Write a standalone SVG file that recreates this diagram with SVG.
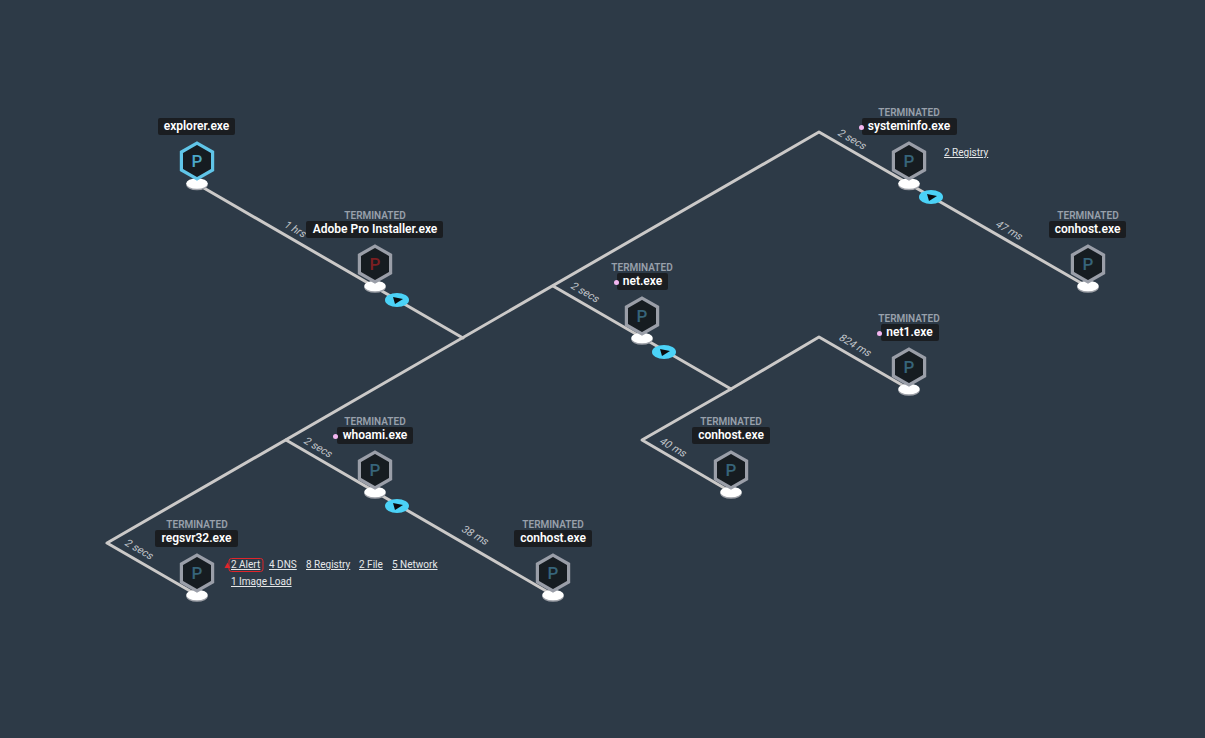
<svg xmlns="http://www.w3.org/2000/svg" width="1205" height="738" viewBox="0 0 1205 738">
<defs>
<style>
text{font-family:Roboto,"Liberation Sans",sans-serif}
.e{fill:none;stroke:#cbc9c8;stroke-width:3;stroke-linecap:round;stroke-linejoin:round}
.hex{fill:#161c21;stroke:#9a9ea8;stroke-width:3.2}
.hexa{fill:#161c21;stroke:#60c5e8;stroke-width:3.2}
.p{font-size:17px;font-weight:500;text-anchor:middle;fill:#36647a}
.lab{fill:#1a1d21}
.name{font-size:12px;font-weight:600;fill:#fff;text-anchor:middle}
.term{font-size:10px;font-weight:600;fill:#98a0ab;text-anchor:middle}
.t{font-size:10.500px;fill:#c2c6cb;text-anchor:middle}
.l{font-size:10px;fill:#e6e8ea;text-decoration:underline}
.dot{fill:#f3b6f0}
.s{fill:#9ea1a8}
.w{fill:#fff}
.c{fill:#4bd2f7}
.k{fill:#0b0c0e}
</style>
<path id="h" d="M0-17.800 15.600-9V9L0 17.800-15.600 9V-9Z"/>
<g id="b"><ellipse class="s" cy="1.500" rx="10.800" ry="5.200"/><ellipse class="w" rx="10.800" ry="5.200"/></g>
<g id="r"><ellipse class="c" rx="12" ry="7"/><path class="k" d="M-4-3 6-1-2 4Z"/></g>
</defs>
<rect width="1205" height="738" fill="#2d3a47"/>
<g id="connectors">
<path class="e" d="M197 184 463 338"/>
<path class="e" d="M197 595 107 543 819 132 1088 287"/>
<path class="e" d="M286 440 553 595"/>
<path class="e" d="M553 286 731 389 642 440 731 492"/>
<path class="e" d="M731 389 819 337 909 389"/>
<text class="t" transform="matrix(.866 .5 -.7 .75 293 232)">1 hrs</text>
<text class="t" transform="matrix(.866 .5 -.7 .75 137 552)">2 secs</text>
<text class="t" transform="matrix(.866 .5 -.7 .75 316 450)">2 secs</text>
<text class="t" transform="matrix(.866 .5 -.7 .75 583 295)">2 secs</text>
<text class="t" transform="matrix(.866 .5 -.7 .75 850 142)">2 secs</text>
<text class="t" transform="matrix(.866 .5 -.7 .75 473 538)">38 ms</text>
<text class="t" transform="matrix(.866 .5 -.7 .75 671 450)">40 ms</text>
<text class="t" transform="matrix(.866 .5 -.7 .75 853 348)">824 ms</text>
<text class="t" transform="matrix(.866 .5 -.7 .75 1007 233)">47 ms</text>
<use href="#r" x="397" y="300"/>
<use href="#r" x="664" y="352"/>
<use href="#r" x="931" y="197"/>
<use href="#r" x="397" y="506"/>
</g>
<g id="explorer">
<use href="#b" x="197" y="183.500"/><use href="#h" class="hexa" x="197" y="161"/>
<text class="p" x="197" y="167" style="fill:#4ba8c8">P</text>
<rect class="lab" x="158" y="118" width="77" height="17" rx="2"/><text class="name" x="196.500" y="130">explorer.exe</text>
</g>
<g id="adobe">
<use href="#b" x="375" y="286"/><use href="#h" class="hex" x="375" y="264"/>
<text class="p" x="375" y="270" style="fill:#7c1f22">P</text>
<text class="term" x="375" y="219">TERMINATED</text>
<rect class="lab" x="306" y="221" width="137" height="17" rx="2"/><text class="name" x="375" y="233">Adobe Pro Installer.exe</text>
</g>
<g id="systeminfo">
<use href="#b" x="909" y="183.500"/><use href="#h" class="hex" x="909" y="161"/>
<text class="p" x="909" y="167">P</text>
<text class="term" x="909" y="116">TERMINATED</text>
<rect class="lab" x="862" y="118" width="95" height="17" rx="2"/><circle class="dot" cx="861.500" cy="127.500" r="2.500"/><text class="name" x="909" y="130">systeminfo.exe</text>
<text class="l" x="944" y="156">2 Registry</text>
</g>
<g id="conhost-right">
<use href="#b" x="1088" y="286"/><use href="#h" class="hex" x="1088" y="264"/>
<text class="p" x="1088" y="270">P</text>
<text class="term" x="1088" y="219">TERMINATED</text>
<rect class="lab" x="1049" y="221" width="77" height="17" rx="2"/><text class="name" x="1087.500" y="233">conhost.exe</text>
</g>
<g id="net">
<use href="#b" x="642" y="338"/><use href="#h" class="hex" x="642" y="316"/>
<text class="p" x="642" y="322">P</text>
<text class="term" x="642" y="271">TERMINATED</text>
<rect class="lab" x="617" y="273" width="51" height="17" rx="2"/><circle class="dot" cx="616.500" cy="282.500" r="2.500"/><text class="name" x="642.500" y="285">net.exe</text>
</g>
<g id="net1">
<use href="#b" x="909" y="389"/><use href="#h" class="hex" x="909" y="367"/>
<text class="p" x="909" y="373">P</text>
<text class="term" x="909" y="322">TERMINATED</text>
<rect class="lab" x="881" y="324" width="58" height="17" rx="2"/><circle class="dot" cx="879.500" cy="333.500" r="2.500"/><text class="name" x="909.500" y="336">net1.exe</text>
</g>
<g id="conhost-mid">
<use href="#b" x="731" y="492"/><use href="#h" class="hex" x="731" y="470"/>
<text class="p" x="731" y="476">P</text>
<text class="term" x="731" y="425">TERMINATED</text>
<rect class="lab" x="692" y="427" width="78" height="17" rx="2"/><text class="name" x="731" y="439">conhost.exe</text>
</g>
<g id="whoami">
<use href="#b" x="375" y="492"/><use href="#h" class="hex" x="375" y="470"/>
<text class="p" x="375" y="476">P</text>
<text class="term" x="375" y="425">TERMINATED</text>
<rect class="lab" x="337" y="427" width="76" height="17" rx="2"/><circle class="dot" cx="335.500" cy="436.500" r="2.500"/><text class="name" x="375" y="439">whoami.exe</text>
</g>
<g id="regsvr32">
<use href="#b" x="197" y="595"/><use href="#h" class="hex" x="197" y="573"/>
<text class="p" x="197" y="579">P</text>
<text class="term" x="197" y="528">TERMINATED</text>
<rect class="lab" x="155" y="530" width="83" height="17" rx="2"/><text class="name" x="196.500" y="542">regsvr32.exe</text>
<rect x="229" y="558.500" width="34" height="13" rx="2.500" fill="none" stroke="#e0252b" stroke-width="1"/>
<path d="M224.500 568 227.500 562.500 230.500 568Z" fill="#e0252b"/>
<text class="l" x="231" y="568">2 Alert</text>
<text class="l" x="269" y="568">4 DNS</text>
<text class="l" x="306" y="568">8 Registry</text>
<text class="l" x="359" y="568">2 File</text>
<text class="l" x="392" y="568">5 Network</text>
<text class="l" x="231" y="585">1 Image Load</text>
</g>
<g id="conhost-low">
<use href="#b" x="553" y="595"/><use href="#h" class="hex" x="553" y="573"/>
<text class="p" x="553" y="579">P</text>
<text class="term" x="553" y="528">TERMINATED</text>
<rect class="lab" x="514" y="530" width="78" height="17" rx="2"/><text class="name" x="553" y="542">conhost.exe</text>
</g>
</svg>
